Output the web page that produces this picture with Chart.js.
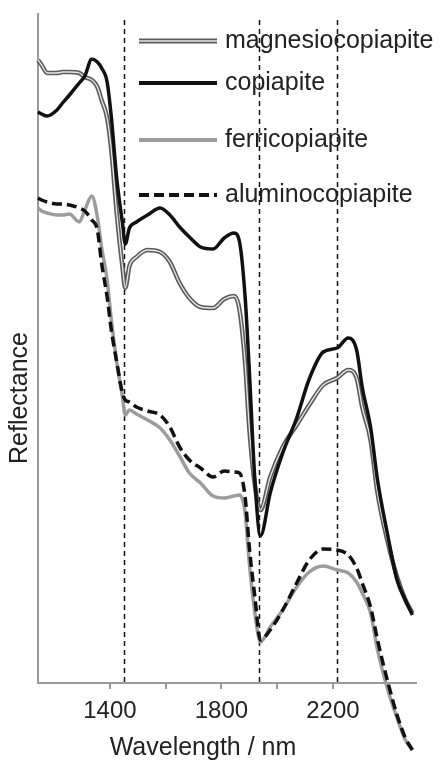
<!DOCTYPE html>
<html>
<head>
<meta charset="utf-8">
<script src="https://cdn.jsdelivr.net/npm/chart.js@4.4.1/dist/chart.umd.min.js"></script>
<style>
  body { margin: 0; background: #fff; }
</style>
</head>
<body>
<canvas id="spectra" width="444" height="767"></canvas>
<script>
// wavelengths (nm) and reflectance (arbitrary units, offset for clarity)
const wavelengths = [1142, 1155, 1175, 1210, 1230, 1255, 1290, 1310, 1335, 1355, 1370, 1390, 1405, 1425, 1445, 1455,
    1470, 1495, 1535, 1580, 1615, 1650, 1685, 1725, 1770, 1810, 1845, 1865, 1885, 1900, 1920, 1940,
    1975, 2020, 2070, 2115, 2165, 2215, 2255, 2285, 2305, 2335, 2360, 2395, 2430, 2460, 2485];

const magnesiocopiapite = [623, 618, 610, 610, 611, 611, 610, 606, 603, 596, 583, 565, 533, 468, 416, 395,
    417, 426, 433, 431, 421, 400, 385, 376, 375, 384, 387, 373, 320, 255, 198, 173,
    206, 236, 258, 278, 298, 305, 313, 305, 276, 243, 190, 143, 106, 83, 70];

const copiapite = [571, 569, 567, 573, 580, 588, 600, 607, 624, 621, 615, 601, 566, 503, 460, 439,
    455, 461, 468, 475, 468, 456, 446, 436, 434, 445, 450, 441, 386, 313, 203, 147,
    190, 230, 265, 304, 331, 335, 345, 333, 296, 256, 203, 150, 103, 83, 68];

const ferricopiapite = [475, 472, 470, 468, 468, 469, 461, 473, 487, 466, 436, 403, 363, 320, 286, 268,
    273, 269, 263, 255, 243, 227, 210, 200, 187, 185, 187, 188, 170, 120, 70, 41,
    56, 73, 96, 111, 117, 113, 110, 101, 90, 70, 33, -5, -35, -57, -67];

const aluminocopiapite = [485, 483, 481, 479, 479, 478, 475, 472, 463, 453, 420, 386, 353, 320, 290, 283,
    281, 276, 272, 268, 256, 236, 223, 215, 206, 212, 211, 210, 186, 136, 86, 43,
    53, 73, 100, 123, 134, 133, 128, 115, 100, 76, 43, 3, -32, -55, -67];

const labeledTicks = [1400, 1800, 2200];
const bandMarkers = [1452, 1936, 2214];

const FONT = "'Liberation Sans', Arial, sans-serif";

function toPoints(values) {
    return wavelengths.map((w, i) => ({ x: w, y: values[i] }));
}

const lineBase = {
    pointRadius: 0,
    fill: false,
    clip: false,
    cubicInterpolationMode: 'monotone',
};

const datasets = [
    Object.assign({ label: 'copiapite', data: toPoints(copiapite), borderColor: '#111', borderWidth: 3.5 }, lineBase),
    Object.assign({ label: 'magnesiocopiapite', data: toPoints(magnesiocopiapite), borderColor: '#e8e8e8', borderWidth: 1.3 }, lineBase),
    Object.assign({ label: '', data: toPoints(magnesiocopiapite), borderColor: '#5a5a5a', borderWidth: 4.5 }, lineBase),
    Object.assign({ label: 'aluminocopiapite', data: toPoints(aluminocopiapite), borderColor: '#111', borderWidth: 3.5, borderDash: [10, 5] }, lineBase),
    Object.assign({ label: 'ferricopiapite', data: toPoints(ferricopiapite), borderColor: '#9c9c9c', borderWidth: 3.5 }, lineBase),
];

// dashed vertical band markers behind the spectra
const markerLines = {
    id: 'markerLines',
    beforeDatasetsDraw(chart) {
        const { ctx, chartArea, scales } = chart;
        ctx.save();
        ctx.strokeStyle = '#111';
        ctx.lineWidth = 1.5;
        ctx.setLineDash([5, 4]);
        bandMarkers.forEach(w => {
            const x = Math.round(scales.x.getPixelForValue(w)) + 0.5;
            ctx.beginPath();
            ctx.moveTo(x, chartArea.top + 6);
            ctx.lineTo(x, chartArea.bottom);
            ctx.stroke();
        });
        ctx.restore();
    }
};

// legend with the original uneven row spacing, plus both axis titles
const sideTexts = {
    id: 'sideTexts',
    afterDraw(chart) {
        const { ctx } = chart;
        const rows = [
            { label: 'magnesiocopiapite', y: 41, double: true },
            { label: 'copiapite', y: 83, color: '#111' },
            { label: 'ferricopiapite', y: 140, color: '#9c9c9c' },
            { label: 'aluminocopiapite', y: 195, color: '#111', dash: [10, 5] },
        ];
        ctx.save();
        ctx.font = '25px ' + FONT;
        ctx.fillStyle = '#222';
        ctx.textBaseline = 'middle';
        rows.forEach(r => {
            ctx.beginPath();
            ctx.moveTo(139, r.y);
            ctx.lineTo(217, r.y);
            if (r.double) {
                ctx.setLineDash([]);
                ctx.strokeStyle = '#5a5a5a';
                ctx.lineWidth = 5;
                ctx.stroke();
                ctx.strokeStyle = '#e8e8e8';
                ctx.lineWidth = 1.3;
                ctx.stroke();
            } else {
                ctx.setLineDash(r.dash || []);
                ctx.strokeStyle = r.color;
                ctx.lineWidth = 4;
                ctx.stroke();
            }
            ctx.setLineDash([]);
            ctx.textAlign = 'left';
            ctx.fillText(r.label, 225, r.y);
        });

        ctx.textAlign = 'center';
        ctx.fillText('Wavelength / nm', 203, 748);

        ctx.translate(20, 398);
        ctx.rotate(-Math.PI / 2);
        ctx.fillText('Reflectance', 0, 0);
        ctx.restore();
    }
};

new Chart(document.getElementById('spectra').getContext('2d'), {
    type: 'line',
    data: { datasets: datasets },
    options: {
        responsive: false,
        animation: false,
        devicePixelRatio: 1,
        layout: { padding: { top: 14, right: 28, left: 0, bottom: 0 } },
        plugins: { legend: { display: false }, tooltip: { enabled: false } },
        scales: {
            x: {
                type: 'linear',
                min: 1142,
                max: 2498,
                afterBuildTicks(scale) {
                    scale.ticks = [1400, 1600, 1800, 2000, 2200, 2400].map(v => ({ value: v }));
                },
                afterFit(scale) { scale.height = 84; },
                border: { color: '#9a9a9a', width: 2 },
                grid: { drawOnChartArea: false, drawTicks: true, tickLength: 6, color: '#9a9a9a', lineWidth: 2 },
                ticks: {
                    autoSkip: false,
                    maxRotation: 0,
                    padding: 8,
                    color: '#222',
                    font: { family: FONT, size: 24 },
                    callback: v => labeledTicks.includes(v) ? String(v) : '',
                },
            },
            y: {
                min: 0,
                max: 669,
                afterFit(scale) { scale.width = 38; },
                border: { color: '#9a9a9a', width: 2 },
                grid: { display: false },
                ticks: { display: false },
            },
        },
    },
    plugins: [markerLines, sideTexts],
});
</script>
</body>
</html>
